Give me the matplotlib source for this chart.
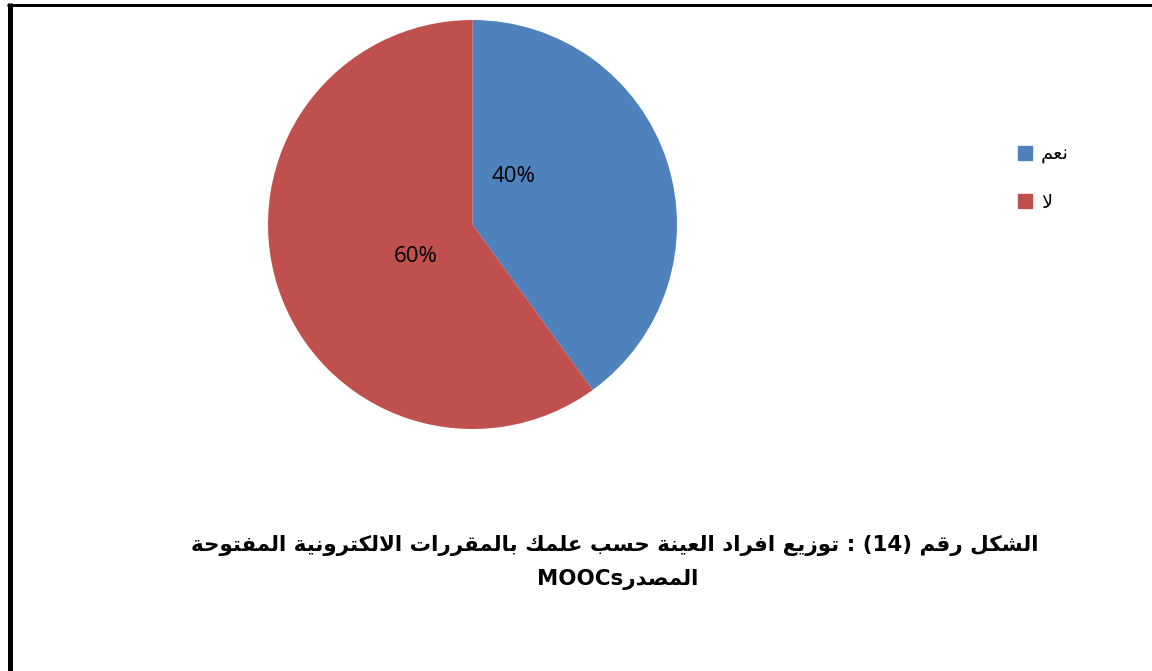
import matplotlib
matplotlib.use("Agg")
import matplotlib.pyplot as plt
from matplotlib.lines import Line2D

# ---------------- data ----------------
categories = ["نعم", "لا"]
values = [40, 60]
colors = ["#4F81BD", "#C0504D"]
title_line1 = "الشكل رقم (14) : توزيع افراد العينة حسب علمك بالمقررات الالكترونية المفتوحة"
title_line2_ar = "المصدر"
title_line2_lat = "MOOCs"

# ---------------- minimal Arabic shaping ----------------
_DUAL = {
    'ب': 0xFE8F, 'ت': 0xFE95, 'ث': 0xFE99, 'ج': 0xFE9D, 'ح': 0xFEA1, 'خ': 0xFEA5,
    'س': 0xFEB1, 'ش': 0xFEB5, 'ص': 0xFEB9, 'ض': 0xFEBD, 'ط': 0xFEC1, 'ظ': 0xFEC5,
    'ع': 0xFEC9, 'غ': 0xFECD, 'ف': 0xFED1, 'ق': 0xFED5, 'ك': 0xFED9, 'ل': 0xFEDD,
    'م': 0xFEE1, 'ن': 0xFEE5, 'ه': 0xFEE9, 'ي': 0xFEF1,
}
_RIGHT = {
    'ا': 0xFE8D, 'أ': 0xFE83, 'إ': 0xFE87, 'آ': 0xFE81, 'ة': 0xFE93, 'د': 0xFEA9,
    'ذ': 0xFEAB, 'ر': 0xFEAD, 'ز': 0xFEAF, 'و': 0xFEED, 'ى': 0xFEEF,
}
_LAMALEF = {'ا': 0xFEFB, 'أ': 0xFEF7, 'إ': 0xFEF9, 'آ': 0xFEF5}


def _is_ar(t):
    return isinstance(t, tuple) or t in _DUAL or t in _RIGHT


def _shape_word(word):
    toks = []
    i = 0
    while i < len(word):
        c = word[i]
        if c == 'ل' and i + 1 < len(word) and word[i + 1] in _LAMALEF:
            toks.append(('LA', word[i + 1]))
            i += 2
        else:
            toks.append(c)
            i += 1
    out = []
    for k, t in enumerate(toks):
        prev = toks[k - 1] if k > 0 else None
        nxt = toks[k + 1] if k + 1 < len(toks) else None
        jp = prev is not None and not isinstance(prev, tuple) and prev in _DUAL and _is_ar(t)
        if isinstance(t, tuple):
            base = _LAMALEF[t[1]]
            out.append(chr(base + (1 if jp else 0)))
        elif t in _DUAL:
            jn = nxt is not None and _is_ar(nxt)
            base = _DUAL[t]
            if jp and jn:
                out.append(chr(base + 3))
            elif jn:
                out.append(chr(base + 2))
            elif jp:
                out.append(chr(base + 1))
            else:
                out.append(chr(base))
        elif t in _RIGHT:
            out.append(chr(_RIGHT[t] + (1 if jp else 0)))
        else:
            out.append(t)
    return ''.join(reversed(out))


def rtl(text):
    words = text.split(' ')
    vis = []
    for w in words:
        if any(_is_ar(c) for c in w):
            vis.append(_shape_word(w))
        else:
            vis.append(w)
    return ' '.join(reversed(vis))


# ---------------- figure ----------------
W, H = 1152, 671
fig = plt.figure(figsize=(W / 100, H / 100), dpi=100)
fig.patch.set_facecolor("white")

# pie axes: center (472.5, 224.5) px, radius 204.5 px
cx, cy, r = 472.5, 224.5, 204.5
ax = fig.add_axes([(cx - r) / W, (H - cy - r) / H, 2 * r / W, 2 * r / H])
wedges, texts, autotexts = ax.pie(
    values, colors=colors, startangle=90, counterclock=False,
    autopct=lambda p: f"{p:.0f}%", pctdistance=0.5,
    wedgeprops=dict(linewidth=0),
    textprops=dict(fontsize=16, color="black", family=["Open Sans", "DejaVu Sans"]),
    radius=1.0,
)
ax.set_xlim(-1, 1)
ax.set_ylim(-1, 1)
ax.set_aspect("equal")
# label positions as in reference
autotexts[0].set_position((40.5 / r, 48.0 / r))
autotexts[1].set_position((-57.0 / r, -31.5 / r))
for t in autotexts:
    t.set_va("center")
    t.set_ha("center")

# legend
handles = [plt.Rectangle((0, 0), 1, 1, color=c) for c in colors]
leg = fig.legend(handles, [rtl(c) for c in categories], loc="upper left",
                 bbox_to_anchor=(1000 / W, 1 - 127 / H), frameon=False,
                 handlelength=0.75, handleheight=0.75, handletextpad=0.45,
                 labelspacing=1.5, prop=dict(family="DejaVu Sans", size=14))

# title
fig.text(614.5 / W, 1 - 546 / H, rtl(title_line1), ha="center", va="center",
         fontsize=15.4, fontweight="bold", family="DejaVu Sans")
fig.text(618 / W, 1 - 580 / H, title_line2_lat + rtl(title_line2_ar), ha="center",
         va="center", fontsize=15.4, fontweight="bold", family="DejaVu Sans")

# frame lines (top and left, as in reference)
fig.add_artist(Line2D([7 / W, 1.0], [1 - 4.5 / H, 1 - 4.5 / H], transform=fig.transFigure,
                      color="black", linewidth=3 * 0.72, solid_capstyle="butt"))
fig.add_artist(Line2D([9.5 / W, 9.5 / W], [0, 1 - 3 / H], transform=fig.transFigure,
                      color="black", linewidth=5 * 0.72, solid_capstyle="butt"))

fig.savefig("out.png", dpi=100, facecolor="white")
